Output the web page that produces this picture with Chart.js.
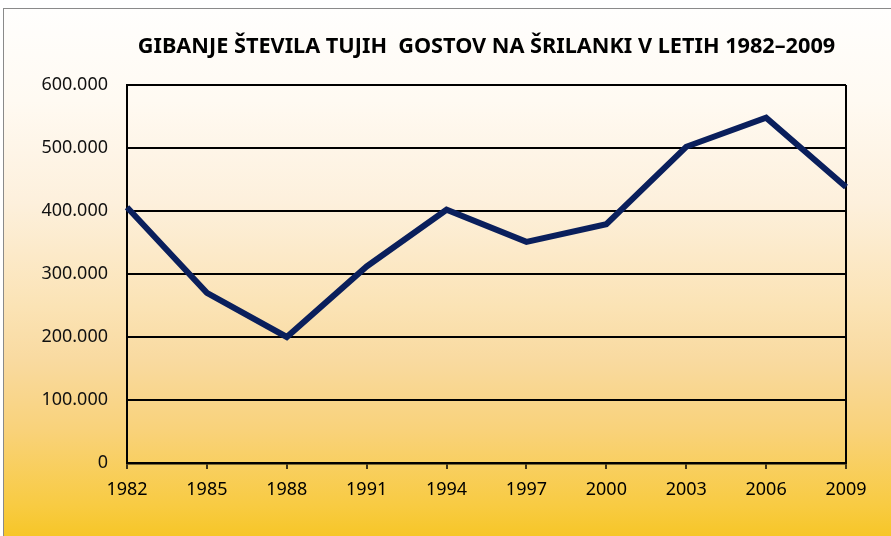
<!DOCTYPE html>
<html lang="sl">
<head>
    <meta charset="UTF-8">
    <title>Gibanje števila tujih gostov na Šrilanki</title>
    <script src="https://cdn.jsdelivr.net/npm/chart.js"></script>
    <style>
        html, body { margin: 0; padding: 0; background: #fff; }
        #wrap { position: relative; width: 891px; height: 536px; overflow: hidden; }
        #bg {
            position: absolute; left: 3px; top: 8px; width: 900px; height: 540px;
            border-left: 1.5px solid #8a8a8a; border-top: 1.5px solid #8a8a8a;
            background: linear-gradient(to bottom, #fffefd 0%, #fffaf2 17%, #fdf0dc 36%, #fbe3b5 55%, #f9daa0 65%, #f9d27a 78%, #f8cb42 92%, #f6c41c 100%);
        }
        #c { position: absolute; left: 0; top: 0; }
    </style>
</head>
<body>
    <div id="wrap">
        <div id="bg"></div>
        <canvas id="c" width="891" height="536"></canvas>
    </div>

    <script>
        // podatki
        const years = ['1982', '1985', '1988', '1991', '1994', '1997', '2000', '2003', '2006', '2009'];
        const guests = [406000, 270000, 200000, 312000, 402000, 351000, 379000, 502000, 548000, 438000];
        const yTicks = [0, 100000, 200000, 300000, 400000, 500000, 600000];
        const chartTitle = 'GIBANJE ŠTEVILA TUJIH  GOSTOV NA ŠRILANKI V LETIH 1982–2009';

        // naslov centriran nad risalno površino
        const titlePlugin = {
            id: 'areaTitle',
            afterDraw(chart) {
                const ctx = chart.ctx;
                const a = chart.chartArea;
                ctx.save();
                ctx.font = 'bold 21.7px "Noto Sans", sans-serif';
                ctx.fillStyle = '#000';
                ctx.textAlign = 'center';
                ctx.textBaseline = 'middle';
                ctx.fillText(chartTitle, (a.left + a.right) / 2, 47);
                ctx.restore();
            }
        };

        new Chart(document.getElementById('c'), {
            type: 'line',
            data: {
                labels: years,
                datasets: [{
                    data: guests,
                    borderColor: '#0a1f5c',
                    borderWidth: 6,
                    borderJoinStyle: 'miter',
                    pointRadius: 0,
                    tension: 0,
                    fill: false
                }]
            },
            options: {
                responsive: false,
                animation: false,
                layout: { padding: { top: 85, right: 45, bottom: 0, left: 0 } },
                plugins: {
                    legend: { display: false },
                    tooltip: { enabled: false }
                },
                scales: {
                    x: {
                        offset: false,
                        afterFit(scale) { scale.height = 73; },
                        grid: {
                            color: ctx => ctx.index === years.length - 1 ? '#000' : 'rgba(0,0,0,0)',
                            lineWidth: 2,
                            tickColor: '#000',
                            tickLength: 6,
                            tickWidth: 1.5
                        },
                        border: { color: '#000', width: 2.5 },
                        ticks: {
                            color: '#000',
                            padding: 10,
                            maxRotation: 0,
                            font: { family: '"Noto Sans", sans-serif', size: 18 }
                        }
                    },
                    y: {
                        min: 0,
                        max: 600000,
                        afterFit(scale) { scale.width = 127; },
                        afterBuildTicks(scale) { scale.ticks = yTicks.map(v => ({ value: v })); },
                        grid: { color: '#000', lineWidth: 2, drawTicks: false },
                        border: { color: '#000', width: 2 },
                        ticks: {
                            color: '#111',
                            padding: 19,
                            font: { family: '"Noto Sans", sans-serif', size: 18 },
                            callback: v => v === 0 ? '0' : v.toLocaleString('de-DE')
                        }
                    }
                }
            },
            plugins: [titlePlugin]
        });
    </script>
</body>
</html>
